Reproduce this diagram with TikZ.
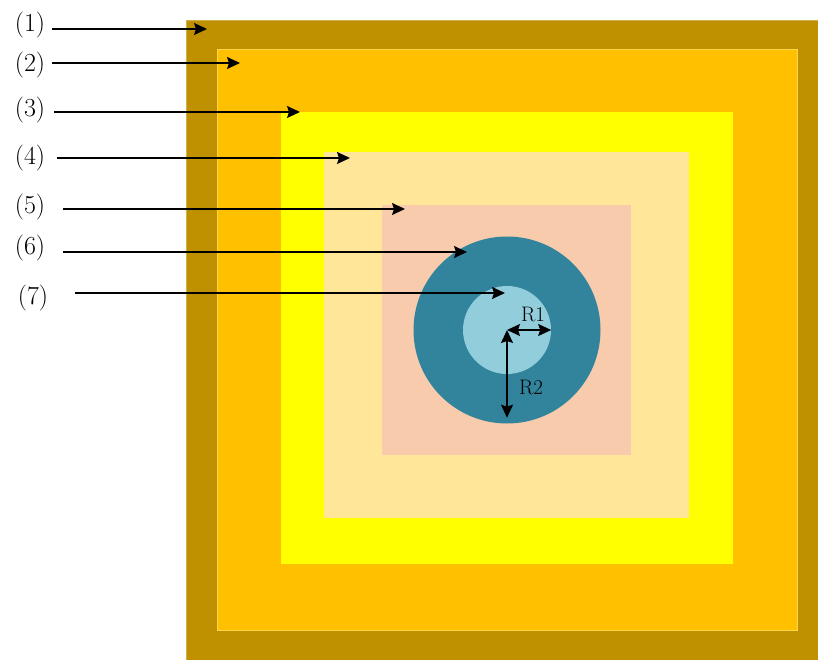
\documentclass[tikz,border=0pt]{standalone}
\usepackage{fontspec}
\usetikzlibrary{arrows.meta,positioning}
\definecolor{layerOne}{HTML}{BF9000}
\definecolor{layerTwo}{HTML}{FFC000}
\definecolor{layerThree}{HTML}{FFFF00}
\definecolor{layerFour}{HTML}{FFE699}
\definecolor{layerFive}{HTML}{F8CBAD}
\definecolor{coreOuter}{HTML}{31849B}
\definecolor{coreInner}{HTML}{92CDDC}

\begin{document}
\begin{tikzpicture}[x=1pt, y=-1pt, >={Stealth[length=13pt,width=12pt,inset=2pt]},
    lab/.style={font=\fontsize{26}{30}\selectfont, inner sep=0pt},
    rlab/.style={font=\fontsize{21}{25}\selectfont, inner sep=0pt},
    pointer/.style={->, line width=1.6pt, black},
    radius arrow/.style={<->, line width=1.6pt, black}]
    \useasboundingbox (0,0) rectangle (818,660);

    % nested layers
    \fill [layerOne, draw=layerOne!70!white, line width=0.8pt] (186,20) rectangle (820,662);
    \fill [layerTwo, draw=layerTwo!70!white, line width=0.8pt] (217,49) rectangle (797,630);
    \fill [layerThree] (281,112) rectangle (733,564);
    \fill [layerFour] (324,152) rectangle (689,518);
    \fill [layerFive] (382,205) rectangle (631,455);
    \node [circle, fill=coreOuter, minimum size=187pt, inner sep=0pt] (outer) at (507,330) {};
    \node [circle, fill=coreInner, minimum size=88pt, inner sep=0pt] (inner) at (507,330) {};

    % labels
    \node [lab] (l1) at (30,25) {(1)};
    \node [lab] (l2) at (30,65) {(2)};
    \node [lab] (l3) at (30,110) {(3)};
    \node [lab] (l4) at (30,158) {(4)};
    \node [lab] (l5) at (30,207) {(5)};
    \node [lab] (l6) at (30,248) {(6)};
    \node [lab] (l7) at (33,298) {(7)};

    \coordinate (t1) at (207,29);
    \coordinate (t2) at (240,63);
    \coordinate (t3) at (300,112);
    \coordinate (t4) at (350,158);
    \coordinate (t5) at (405,209);
    \coordinate (t6) at (467,252);
    \coordinate (t7) at (505,293);

    \draw [pointer] (52,0 |- t1) -- (t1);
    \draw [pointer] (52,0 |- t2) -- (t2);
    \draw [pointer] (54,0 |- t3) -- (t3);
    \draw [pointer] (57,0 |- t4) -- (t4);
    \draw [pointer] (63,0 |- t5) -- (t5);
    \draw [pointer] (63,0 |- t6) -- (t6);
    \draw [pointer] (75,0 |- t7) -- (t7);

    % radii
    \draw [radius arrow] (inner.center) -- (inner.east);
    \draw [radius arrow] (outer.center) -- ([yshift=6pt]outer.south);
    \node [rlab, above=8pt of inner.center, xshift=26pt] (r1) {R1};
    \node [rlab, right=12pt of inner.center, yshift=-57pt] (r2) {R2};
\end{tikzpicture}
\end{document}
